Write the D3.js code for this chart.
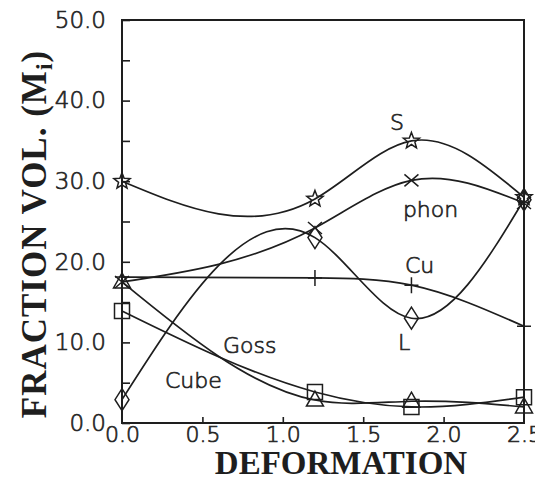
<!DOCTYPE html>
<html>
<head>
<meta charset="utf-8">
<script src="https://cdn.jsdelivr.net/npm/d3@7"></script>
<style>
  html, body { margin: 0; padding: 0; background: #fff; }
  svg { display: block; }
</style>
</head>
<body>
<svg id="chart" width="535" height="483"></svg>
<script>
// Deformation steps (x) and volume fractions per texture component
const deformation = [0, 1.2, 1.8, 2.5];
const sVals    = [30.0, 27.8, 35.0, 28.0];
const phonVals = [17.5, 24.2, 30.1, 27.3];
const cuVals   = [18.1, 18.0, 17.1, 12.0];
const lVals    = [2.9, 23.0, 13.0, 27.7];
const cubeVals = [13.9, 3.85, 2.0, 3.2];
const gossVals = [17.5, 2.85, 2.7, 2.0];

const xTicks = [0, 0.5, 1.0, 1.5, 2.0, 2.5];
const yTicks = [0, 5, 10, 15, 20, 25, 30, 35, 40, 45, 50];

const series = [
  { name: "S",    values: sVals,    marker: "star" },
  { name: "phon", values: phonVals, marker: "x" },
  { name: "Cu",   values: cuVals,   marker: "plus" },
  { name: "L",    values: lVals,    marker: "diamond" },
  { name: "Cube", values: cubeVals, marker: "square" },
  { name: "Goss", values: gossVals, marker: "triangle" },
];

// label anchors, in data units (left edge, baseline)
const labels = [
  { text: "S",    x: 1.667, y: 36.3 },
  { text: "phon", x: 1.747, y: 25.6 },
  { text: "Cu",   x: 1.76,  y: 18.6 },
  { text: "L",    x: 1.716, y: 9.1 },
  { text: "Goss", x: 0.628, y: 8.7 },
  { text: "Cube", x: 0.267, y: 4.3 },
];

const INK = "#1e1e1e";
const SANS = "'DejaVu Sans', sans-serif";
const SERIF = "'Liberation Serif', 'DejaVu Serif', serif";

// thin sans text, thickened a little with a stroke
const lightText = sel => sel
  .attr("font-family", SANS).attr("font-weight", 200)
  .attr("fill", "#262626").attr("stroke", "#262626").attr("stroke-width", 0.7);

// natural cubic spline y(x) through the points, drawn as exact bezier pieces
function curveNaturalX(context) {
  let xs, ys;
  return {
    areaStart() {}, areaEnd() {},
    lineStart() { xs = []; ys = []; },
    point(px, py) { xs.push(+px); ys.push(+py); },
    lineEnd() {
      const n = xs.length;
      if (!n) return;
      context.moveTo(xs[0], ys[0]);
      if (n === 2) { context.lineTo(xs[1], ys[1]); return; }
      const h = [], sl = [];
      for (let i = 0; i < n - 1; i++) { h[i] = xs[i + 1] - xs[i]; sl[i] = (ys[i + 1] - ys[i]) / h[i]; }
      const a = [], b = [], c = [], r = [];
      for (let i = 1; i < n - 1; i++) {
        a.push(h[i - 1]); b.push(2 * (h[i - 1] + h[i])); c.push(h[i]); r.push(6 * (sl[i] - sl[i - 1]));
      }
      const m = b.length;
      for (let i = 1; i < m; i++) {
        const w = a[i] / b[i - 1];
        b[i] -= w * c[i - 1]; r[i] -= w * r[i - 1];
      }
      const M = new Array(n).fill(0);
      M[m] = r[m - 1] / b[m - 1];
      for (let i = m - 2; i >= 0; i--) M[i + 1] = (r[i] - c[i] * M[i + 2]) / b[i];
      for (let i = 0; i < n - 1; i++) {
        const d0 = sl[i] - h[i] * (2 * M[i] + M[i + 1]) / 6;
        const d1 = sl[i] + h[i] * (M[i] + 2 * M[i + 1]) / 6;
        context.bezierCurveTo(
          xs[i] + h[i] / 3, ys[i] + d0 * h[i] / 3,
          xs[i + 1] - h[i] / 3, ys[i + 1] - d1 * h[i] / 3,
          xs[i + 1], ys[i + 1]);
      }
    }
  };
}

const svg = d3.select("#chart");
const x = d3.scaleLinear().domain([0, 2.5]).range([122, 524]);
const y = d3.scaleLinear().domain([0, 50]).range([423, 20]);

// frame
svg.append("rect")
  .attr("x", x(0)).attr("y", y(50))
  .attr("width", x(2.5) - x(0)).attr("height", y(0) - y(50))
  .attr("fill", "none").attr("stroke", INK).attr("stroke-width", 2);

// y axis (ticks point inward)
svg.append("g").attr("transform", `translate(${x(0)},0)`)
  .call(d3.axisLeft(y).tickValues(yTicks).tickSizeInner(-8).tickSizeOuter(0).tickPadding(16)
    .tickFormat(d => d % 10 === 0 ? d3.format(".1f")(d) : ""))
  .call(ax => ax.select(".domain").remove())
  .call(ax => ax.selectAll(".tick line").attr("stroke", INK).attr("stroke-width", 1.6))
  .call(ax => ax.selectAll(".tick text").call(lightText).attr("font-size", "23px"));

// x axis
svg.append("g").attr("transform", `translate(0,${y(0)})`)
  .call(d3.axisBottom(x).tickValues(xTicks).tickSizeInner(-6).tickSizeOuter(0).tickPadding(3)
    .tickFormat(d3.format(".1f")))
  .call(ax => ax.select(".domain").remove())
  .call(ax => ax.selectAll(".tick line").attr("stroke", INK).attr("stroke-width", 1.6)
    .attr("display", d => (d === 0 || d === 2.5) ? "none" : null))
  .call(ax => ax.selectAll(".tick text").call(lightText).attr("font-size", "22px"));

// curves
const line = d3.line()
  .x(d => x(d[0])).y(d => y(d[1]))
  .curve(curveNaturalX);

for (const s of series) {
  const pts = deformation.map((dx, i) => [dx, s.values[i]]);
  svg.append("path").datum(pts)
    .attr("d", line).attr("fill", "none")
    .attr("stroke", INK).attr("stroke-width", 1.7);
}

// markers
function markerPath(kind) {
  const p = d3.path();
  if (kind === "star") {
    const R = 8.5, r = 3.6;
    for (let k = 0; k < 10; k++) {
      const a = -Math.PI / 2 + k * Math.PI / 5;
      const rr = k % 2 ? r : R;
      k ? p.lineTo(rr * Math.cos(a), rr * Math.sin(a)) : p.moveTo(rr * Math.cos(a), rr * Math.sin(a));
    }
    p.closePath();
  } else if (kind === "x") {
    p.moveTo(-7, -6); p.lineTo(7, 6); p.moveTo(-7, 6); p.lineTo(7, -6);
  } else if (kind === "plus") {
    p.moveTo(0, -8); p.lineTo(0, 8); p.moveTo(-7, 0); p.lineTo(7, 0);
  } else if (kind === "diamond") {
    p.moveTo(0, -11); p.lineTo(7, 0); p.lineTo(0, 11); p.lineTo(-7, 0); p.closePath();
  } else if (kind === "square") {
    p.rect(-7.5, -7.5, 15, 15);
  } else if (kind === "triangle") {
    p.moveTo(0, -9); p.lineTo(8.5, 6); p.lineTo(-8.5, 6); p.closePath();
  }
  return p.toString();
}

for (const s of series) {
  svg.append("g").selectAll("path")
    .data(deformation.map((dx, i) => [dx, s.values[i]]))
    .join("path")
    .attr("transform", d => `translate(${x(d[0])},${y(d[1])})`)
    .attr("d", markerPath(s.marker))
    .attr("fill", "none").attr("stroke", INK).attr("stroke-width", 1.5);
}

// series labels
svg.append("g").selectAll("text").data(labels).join("text")
  .attr("x", d => x(d.x)).attr("y", d => y(d.y))
  .call(lightText).attr("font-size", "22px")
  .text(d => d.text);

// axis titles
svg.append("text")
  .attr("x", 341).attr("y", 474)
  .attr("text-anchor", "middle")
  .attr("font-family", SERIF).attr("font-weight", "bold").attr("font-size", "33px")
  .attr("fill", INK)
  .text("DEFORMATION");

const yt = svg.append("text")
  .attr("transform", "translate(46,234) rotate(-90)")
  .attr("text-anchor", "middle")
  .attr("font-family", SERIF).attr("font-weight", "bold").attr("font-size", "35px")
  .attr("letter-spacing", "1px")
  .attr("fill", INK);
yt.append("tspan").text("FRACTION VOL. (M");
yt.append("tspan").attr("font-size", "24px").attr("dy", 6).text("i");
yt.append("tspan").attr("dy", -6).text(")");
</script>
</body>
</html>
